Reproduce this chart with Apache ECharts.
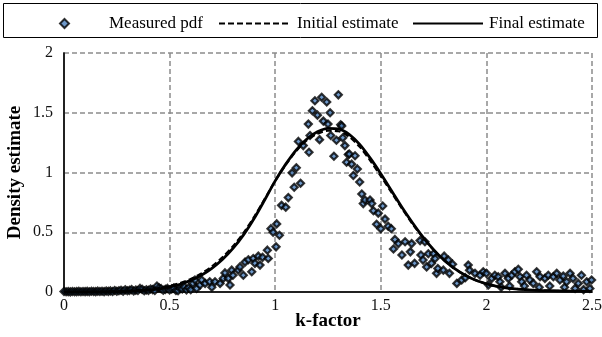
<!DOCTYPE html>
<html>
<head>
<meta charset="utf-8">
<script src="https://cdn.jsdelivr.net/npm/echarts@6/dist/echarts.min.js"></script>
<style>
html, body { margin: 0; padding: 0; background: #fff; }
#chart { width: 602px; height: 337px; }
</style>
</head>
<body>
<div id="chart"></div>
<script>
// measured pdf points (k, density)
var measuredK = [
  0, 0.01, 0.02, 0.03, 0.04, 0.05, 0.06, 0.07, 0.08, 0.09,
  0.10, 0.11, 0.12, 0.13, 0.14, 0.15, 0.16, 0.17, 0.18, 0.19,
  0.20, 0.21, 0.22, 0.23, 0.24, 0.25, 0.26, 0.27, 0.28, 0.29,
  0.30, 0.31, 0.32, 0.33, 0.34, 0.35, 0.36, 0.37, 0.38, 0.39,
  0.40, 0.41, 0.42, 0.43, 0.44, 0.45, 0.46, 0.47, 0.48, 0.49,
  0.50, 0.51, 0.52, 0.53, 0.54, 0.55, 0.56, 0.57, 0.58, 0.59,
  0.60, 0.61, 0.62, 0.628, 0.644, 0.652, 0.668, 0.69, 0.70, 0.715,
  0.739, 0.754, 0.762, 0.778, 0.786, 0.794, 0.80, 0.825, 0.833, 0.849,
  0.857, 0.873, 0.889, 0.896, 0.904, 0.92, 0.928, 0.94, 0.963, 0.967,
  0.98, 0.99, 1.004, 1.007, 1.02, 1.03, 1.05, 1.062, 1.08, 1.09,
  1.10, 1.11, 1.12, 1.133, 1.157, 1.16, 1.165, 1.176, 1.188, 1.20,
  1.21, 1.22, 1.228, 1.244, 1.25, 1.26, 1.263, 1.278, 1.29, 1.299,
  1.31, 1.315, 1.32, 1.33, 1.338, 1.346, 1.351, 1.362, 1.37, 1.378,
  1.389, 1.40, 1.41, 1.417, 1.425, 1.449, 1.457, 1.465, 1.48, 1.488,
  1.50, 1.509, 1.52, 1.535, 1.55, 1.56, 1.567, 1.583, 1.60, 1.615,
  1.63, 1.64, 1.646, 1.66, 1.686, 1.69, 1.70, 1.709, 1.717, 1.725,
  1.74, 1.75, 1.757, 1.764, 1.77, 1.796, 1.80, 1.82, 1.825, 1.84,
  1.86, 1.883, 1.90, 1.914, 1.92, 1.946, 1.97, 1.985, 2.00, 2.01,
  2.025, 2.04, 2.056, 2.064, 2.07, 2.088, 2.104, 2.11, 2.12, 2.135,
  2.151, 2.159, 2.167, 2.18, 2.19, 2.206, 2.222, 2.238, 2.25, 2.254,
  2.277, 2.293, 2.30, 2.317, 2.333, 2.348, 2.364, 2.37, 2.38, 2.396,
  2.41, 2.42, 2.435, 2.45, 2.46, 2.475, 2.49, 2.498
];
var measuredPdf = [
  0.004, 0.002, 0.003, 0.001, 0.004, 0.002, 0.003, 0.005, 0.002, 0.004,
  0.003, 0.005, 0.002, 0.006, 0.004, 0.003, 0.007, 0.004, 0.006, 0.003,
  0.008, 0.005, 0.009, 0.004, 0.012, 0.006, 0.010, 0.015, 0.007, 0.018,
  0.010, 0.014, 0.020, 0.008, 0.016, 0.012, 0.030, 0.022, 0.010, 0.018,
  0.014, 0.025, 0.020, 0.012, 0.050, 0.035, 0.028, 0.015, 0.022, 0.030,
  0.017, 0.026, 0.034, 0.012, 0.010, 0.030, 0.025, 0.042, 0.018, 0.035,
  0.020, 0.072, 0.100, 0.030, 0.058, 0.100, 0.072, 0.086, 0.040, 0.086,
  0.072, 0.114, 0.160, 0.114, 0.058, 0.183, 0.140, 0.183, 0.210, 0.140,
  0.250, 0.270, 0.170, 0.280, 0.240, 0.300, 0.225, 0.290, 0.350, 0.280,
  0.530, 0.500, 0.378, 0.570, 0.475, 0.725, 0.710, 0.790, 0.997, 0.877,
  1.040, 1.260, 0.910, 1.225, 1.405, 1.170, 1.310, 1.517, 1.600, 1.480,
  1.275, 1.630, 1.430, 1.590, 1.405, 1.500, 1.310, 1.136, 1.270, 1.650,
  1.400, 1.390, 1.290, 1.225, 1.086, 1.150, 1.155, 1.070, 0.975, 1.140,
  1.030, 0.920, 0.820, 0.740, 0.770, 0.770, 0.740, 0.680, 0.567, 0.660,
  0.530, 0.720, 0.610, 0.550, 0.530, 0.360, 0.440, 0.405, 0.310, 0.420,
  0.225, 0.336, 0.405, 0.240, 0.430, 0.310, 0.267, 0.420, 0.210, 0.320,
  0.240, 0.320, 0.280, 0.156, 0.197, 0.183, 0.300, 0.267, 0.156, 0.233,
  0.072, 0.100, 0.120, 0.225, 0.183, 0.156, 0.140, 0.170, 0.156, 0.060,
  0.114, 0.140, 0.128, 0.086, 0.040, 0.156, 0.114, 0.050, 0.140, 0.170,
  0.190, 0.128, 0.086, 0.050, 0.140, 0.100, 0.072, 0.170, 0.040, 0.128,
  0.114, 0.140, 0.050, 0.128, 0.156, 0.100, 0.133, 0.040, 0.086, 0.156,
  0.114, 0.030, 0.072, 0.140, 0.020, 0.086, 0.030, 0.100
];

// fitted curves
var curveK = [
  0, 0.1, 0.2, 0.3, 0.4, 0.45, 0.5, 0.55, 0.6, 0.65,
  0.7, 0.75, 0.8, 0.85, 0.9, 0.95, 1.0, 1.05, 1.1, 1.15,
  1.2, 1.25, 1.3, 1.35, 1.4, 1.45, 1.5, 1.55, 1.6, 1.65,
  1.7, 1.75, 1.8, 1.85, 1.9, 1.95, 2.0, 2.05, 2.1, 2.2,
  2.3, 2.4, 2.5
];
var initialEstimate = [
  0, 0.002, 0.004, 0.009, 0.021, 0.033, 0.050, 0.075, 0.109, 0.155,
  0.214, 0.290, 0.383, 0.495, 0.628, 0.777, 0.930, 1.065, 1.180, 1.270,
  1.325, 1.350, 1.345, 1.300, 1.215, 1.100, 0.970, 0.835, 0.700, 0.570,
  0.455, 0.352, 0.264, 0.195, 0.140, 0.098, 0.068, 0.047, 0.033, 0.018,
  0.011, 0.008, 0.006
];
var finalEstimate = [
  0, 0.001, 0.002, 0.006, 0.016, 0.026, 0.042, 0.065, 0.097, 0.140,
  0.198, 0.272, 0.365, 0.478, 0.615, 0.770, 0.930, 1.070, 1.190, 1.280,
  1.340, 1.370, 1.365, 1.320, 1.235, 1.120, 0.990, 0.850, 0.710, 0.580,
  0.460, 0.355, 0.265, 0.195, 0.140, 0.098, 0.068, 0.047, 0.033, 0.018,
  0.011, 0.008, 0.006
];

var xTicks = [0, 0.5, 1, 1.5, 2, 2.5];
var yTicks = [0, 0.5, 1, 1.5, 2];

function pairs(xs, ys) {
  return xs.map(function (x, i) { return [x, ys[i]]; });
}

var serif = "'Liberation Serif', 'Times New Roman', serif";
var legendText = { fontFamily: serif, fontSize: 17, color: '#000' };
var chart = echarts.init(document.getElementById('chart'));

chart.setOption({
  animation: false,
  textStyle: { fontFamily: serif },
  grid: { left: 64, right: 10, top: 53, bottom: 45, containLabel: false, outerBoundsMode: 'none' },
  // one legend per item so each can sit where the original puts it
  legend: [{
    left: 59,
    top: 15,
    padding: 0,
    itemWidth: 9,
    itemHeight: 9,
    icon: 'diamond',
    textStyle: Object.assign({ padding: [0, 0, 0, 35] }, legendText),
    data: ['Measured pdf']
  }, {
    left: 218,
    top: 15,
    padding: 0,
    itemWidth: 70,
    itemHeight: 9,
    itemStyle: { color: 'rgba(0,0,0,0)', borderWidth: 0 },
    textStyle: Object.assign({ padding: [0, 0, 0, 3] }, legendText),
    data: ['Initial estimate']
  }, {
    left: 412,
    top: 15,
    padding: 0,
    itemWidth: 70,
    itemHeight: 9,
    itemStyle: { color: 'rgba(0,0,0,0)', borderWidth: 0 },
    textStyle: Object.assign({ padding: [0, 0, 0, 1] }, legendText),
    data: ['Final estimate']
  }],
  graphic: [{
    type: 'rect',
    shape: { x: 3.5, y: 3.5, width: 594, height: 34 },
    style: { fill: 'none', stroke: '#000', lineWidth: 1 },
    silent: true
  }],
  xAxis: [{
    type: 'value',
    min: xTicks[0],
    max: xTicks[xTicks.length - 1],
    interval: xTicks[1] - xTicks[0],
    name: 'k-factor',
    nameLocation: 'middle',
    nameGap: 20,
    nameMoveOverlap: false,
    nameTextStyle: { fontFamily: serif, fontSize: 19, fontWeight: 'bold', color: '#000' },
    axisLine: { lineStyle: { color: '#858585', width: 2 } },
    axisTick: { show: false },
    axisLabel: { fontFamily: serif, fontSize: 16, color: '#111', margin: 6 },
    splitLine: { show: true, lineStyle: { color: '#8c8c8c', width: 1.5, type: [5, 3] } }
  }, {
    type: 'value',
    position: 'top',
    min: xTicks[0],
    max: xTicks[xTicks.length - 1],
    axisLine: { show: true, lineStyle: { color: '#000', width: 1.5 } },
    axisTick: { show: false },
    axisLabel: { show: false },
    splitLine: { show: false }
  }],
  yAxis: [{
    type: 'value',
    min: yTicks[0],
    max: yTicks[yTicks.length - 1],
    interval: yTicks[1] - yTicks[0],
    name: 'Density estimate',
    nameLocation: 'middle',
    nameGap: 39,
    nameMoveOverlap: false,
    nameTextStyle: { fontFamily: serif, fontSize: 19, fontWeight: 'bold', color: '#000' },
    axisLine: { show: true, lineStyle: { color: '#858585', width: 2 } },
    axisTick: { show: false },
    axisLabel: { fontFamily: serif, fontSize: 16, color: '#111', margin: 11 },
    splitLine: { show: true, lineStyle: { color: '#8c8c8c', width: 1.5, type: [5, 3] } }
  }, {
    type: 'value',
    position: 'right',
    min: yTicks[0],
    max: yTicks[yTicks.length - 1],
    axisLine: { show: true, lineStyle: { color: '#000', width: 1.5 } },
    axisTick: { show: false },
    axisLabel: { show: false },
    splitLine: { show: false }
  }],
  series: [
    {
      name: 'Measured pdf',
      type: 'scatter',
      symbol: 'diamond',
      symbolSize: 7,
      clip: false,
      itemStyle: { color: '#4a7ebb', borderColor: '#000', borderWidth: 2.2 },
      data: pairs(measuredK, measuredPdf)
    },
    {
      name: 'Initial estimate',
      type: 'line',
      smooth: 0.3,
      showSymbol: false,
      symbol: 'none',
      lineStyle: { color: '#000', width: 2.2, type: [6, 3] },
      itemStyle: { color: '#000' },
      data: pairs(curveK, initialEstimate)
    },
    {
      name: 'Final estimate',
      type: 'line',
      smooth: 0.3,
      showSymbol: false,
      symbol: 'none',
      lineStyle: { color: '#000', width: 2.8 },
      itemStyle: { color: '#000' },
      data: pairs(curveK, finalEstimate)
    }
  ]
});
</script>
</body>
</html>
